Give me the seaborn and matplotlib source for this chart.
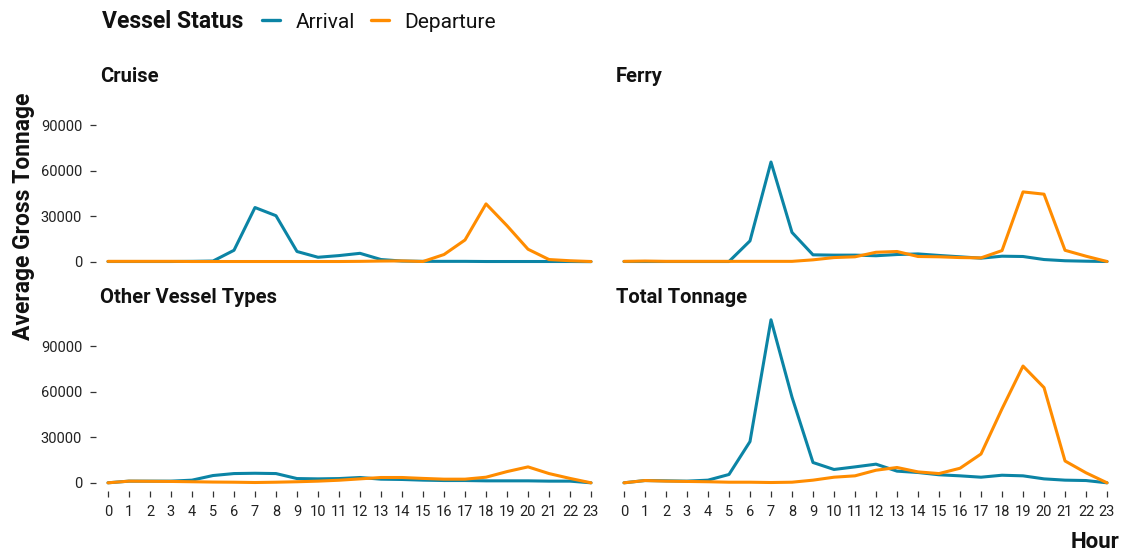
import matplotlib
matplotlib.use("Agg")
import matplotlib.pyplot as plt
import numpy as np
import pandas as pd
import seaborn as sns
from matplotlib.lines import Line2D

# --- data (average gross tonnage by hour) ---
hours = list(range(24))
panels = ["Cruise", "Ferry", "Other Vessel Types", "Total Tonnage"]
status = ["Arrival", "Departure"]

cruise_arr = [200, 200, 200, 200, 300, 500, 7600, 35800, 30400, 6800, 3000, 4100,
              5600, 1500, 500, 300, 300, 300, 200, 200, 200, 200, 200, 100]
cruise_dep = [300, 300, 300, 300, 200, 200, 200, 200, 200, 200, 200, 200,
              300, 500, 600, 200, 4800, 14400, 38200, 23800, 8300, 1500, 700, 200]
ferry_arr = [200, 200, 200, 200, 200, 200, 13800, 65800, 19400, 4600, 4400, 4400,
             4000, 4800, 5200, 4200, 3300, 2400, 3700, 3500, 1500, 700, 400, 200]
ferry_dep = [300, 500, 300, 300, 300, 300, 300, 300, 300, 1300, 2800, 3300,
             6300, 6800, 3500, 3300, 2800, 2600, 7400, 46100, 44600, 7600, 3700, 200]
other_arr = [0, 1100, 1100, 1100, 1750, 4800, 6100, 6300, 6100, 2800, 2600, 2800,
             3500, 2400, 2200, 1750, 1500, 1500, 1300, 1300, 1300, 1100, 1100, 0]
other_dep = [0, 1100, 1000, 900, 700, 500, 400, 200, 400, 700, 1100, 1700,
             2600, 3500, 3500, 2900, 2400, 2400, 3700, 7400, 10500, 6100, 2900, 0]
total_arr = [0, 1500, 1300, 1100, 1750, 5500, 27200, 107500, 56500, 13400, 8800, 10500,
             12300, 7700, 6800, 5300, 4600, 3700, 5000, 4600, 2600, 1750, 1500, 0]
total_dep = [0, 1500, 1100, 900, 700, 400, 400, 200, 400, 1750, 3700, 4600,
             8300, 10100, 7200, 6100, 9600, 19000, 48800, 77000, 62800, 14400, 6600, 0]

series = {
    "Cruise": (cruise_arr, cruise_dep),
    "Ferry": (ferry_arr, ferry_dep),
    "Other Vessel Types": (other_arr, other_dep),
    "Total Tonnage": (total_arr, total_dep),
}

rows = []
for p, (arr, dep) in series.items():
    for h, a, d in zip(hours, arr, dep):
        rows.append({"panel": p, "hour": h, "status": "Arrival", "tonnage": a})
        rows.append({"panel": p, "hour": h, "status": "Departure", "tonnage": d})
df = pd.DataFrame(rows)

sns.set_theme(style="white")
plt.rcParams["font.family"] = ["Roboto", "DejaVu Sans"]

palette = {"Arrival": "#0B84A5", "Departure": "#FF8C00"}
TXT = "#111111"

W, H = 1121, 552
fig = plt.figure(figsize=(W / 100, H / 100), dpi=100)

# axes boxes in pixels: (left, top, right, bottom)
boxes = [(96, 90, 603, 270), (612, 90, 1119, 270),
         (96, 311, 603, 491), (612, 311, 1119, 491)]

for i, (p, (l, t, r, b)) in enumerate(zip(panels, boxes)):
    ax = fig.add_axes([l / W, (H - b) / H, (r - l) / W, (b - t) / H])
    sns.lineplot(data=df[df["panel"] == p], x="hour", y="tonnage", hue="status",
                 palette=palette, linewidth=2.2, ax=ax, legend=False)
    ax.set_xlim(-0.57, 23.57)
    ax.set_ylim(-5400, 113300)
    ax.set_yticks([0, 30000, 60000, 90000])
    ax.set_xticks(hours)
    for s in ax.spines.values():
        s.set_visible(False)
    ax.tick_params(axis="both", which="major", length=4, width=0.9, color="#333333",
                   direction="out", pad=6, labelsize=10.5, labelcolor="#222222")
    ax.tick_params(axis="y", left=(i % 2 == 0), labelleft=(i % 2 == 0))
    ax.tick_params(axis="x", bottom=(i >= 2), labelbottom=(i >= 2))
    ax.set_xlabel("")
    ax.set_ylabel("")
    ax.set_title(p, loc="left", fontsize=14.5, fontweight="bold", color=TXT, pad=6, x=0.008)

# legend across the top
fig.text(102 / W, 1 - 22 / H, "Vessel Status", fontsize=16.5, fontweight="bold",
         color=TXT, va="center", ha="left")
handles = [Line2D([0], [0], color=palette[s], lw=2.4) for s in status]
fig.legend(handles, status, loc="center left", bbox_to_anchor=(262 / W, 1 - 22 / H),
           ncol=2, frameon=False, fontsize=15, handlelength=0.85, handletextpad=0.75,
           columnspacing=0.8, borderaxespad=0, borderpad=0, labelcolor=TXT)

fig.text(24 / W, 1 - 216 / H, "Average Gross Tonnage", rotation=90, fontsize=16.5,
         fontweight="bold", color=TXT, ha="center", va="center")
fig.text(1119 / W, 1 - 548 / H, "Hour", fontsize=16, fontweight="bold", color=TXT,
         ha="right", va="baseline")

fig.savefig("out.png", dpi=100, facecolor="white")
